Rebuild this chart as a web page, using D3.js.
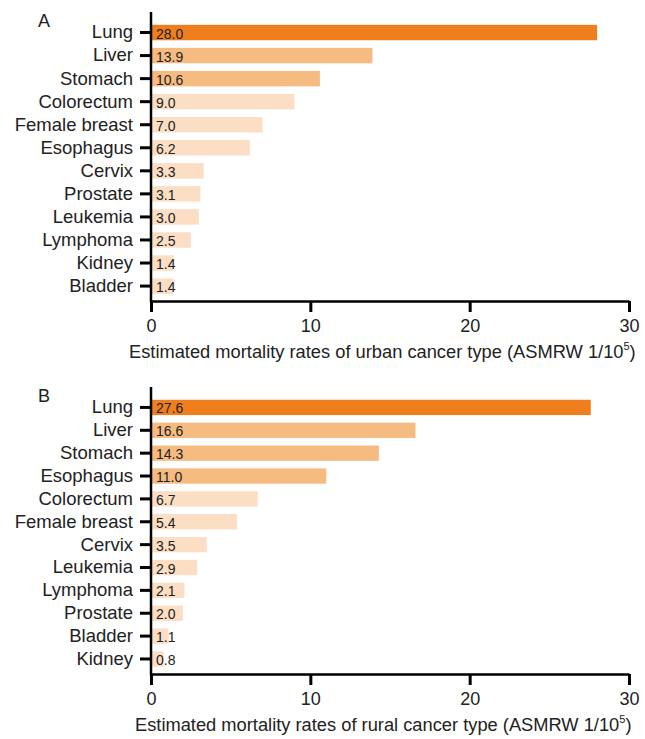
<!DOCTYPE html>
<html>
<head>
<meta charset="utf-8">
<script src="https://cdn.jsdelivr.net/npm/d3@7"></script>
<style>
  body { margin: 0; background: #fff; }
  svg { font-family: "Liberation Sans", Arial, sans-serif; display: block; }
</style>
</head>
<body>
<svg id="chart" width="645" height="739"></svg>
<script>
// urban cancer types (panel A)
const urbanCategories = ['Lung', 'Liver', 'Stomach', 'Colorectum', 'Female breast', 'Esophagus',
  'Cervix', 'Prostate', 'Leukemia', 'Lymphoma', 'Kidney', 'Bladder']
const urbanValues = [28.0, 13.9, 10.6, 9.0, 7.0, 6.2, 3.3, 3.1, 3.0, 2.5, 1.4, 1.4]

// rural cancer types (panel B)
const ruralCategories = ['Lung', 'Liver', 'Stomach', 'Esophagus', 'Colorectum', 'Female breast',
  'Cervix', 'Leukemia', 'Lymphoma', 'Prostate', 'Bladder', 'Kidney']
const ruralValues = [27.6, 16.6, 14.3, 11.0, 6.7, 5.4, 3.5, 2.9, 2.1, 2.0, 1.1, 0.8]

// x axis ticks
const xTicks = [0, 10, 20, 30]

const svg = d3.select('#chart')

// bar colour by value: light / medium / dark orange
const color = d3.scaleThreshold()
  .domain([10, 20])
  .range(['#fbdec3', '#f6bb80', '#ef7f1e'])

// shared x scale for both panels
const x = d3.scaleLinear().domain([0, 30]).range([151, 629])

function drawPanel(cats, vals, o) {
  const g = svg.append('g')

  const y = d3.scaleBand()
    .domain(cats)
    .range([o.bandTop, o.bandBottom])
    .paddingInner(0.33)
    .paddingOuter(0.165)

  // bars
  g.selectAll('rect.bar')
    .data(vals)
    .enter()
    .append('rect')
    .attr('class', 'bar')
    .attr('x', x(0))
    .attr('y', (d, i) => y(cats[i]))
    .attr('width', d => x(d) - x(0))
    .attr('height', y.bandwidth())
    .attr('fill', d => color(d))

  // value labels inside bars
  g.selectAll('text.val')
    .data(vals)
    .enter()
    .append('text')
    .attr('class', 'val')
    .attr('x', x(0) + 5)
    .attr('y', (d, i) => y(cats[i]) + y.bandwidth() / 2 + 6)
    .attr('font-size', 14)
    .attr('fill', '#222')
    .text(d => d.toFixed(1))

  // y axis
  const axisY = d3.axisLeft(y).tickSize(11).tickPadding(7).tickSizeOuter(0)
  const gy = g.append('g')
    .attr('transform', `translate(${x(0)},0)`)
    .call(axisY)
  gy.select('.domain').remove()
  gy.selectAll('.tick line').attr('stroke', '#000').attr('stroke-width', 3)
  gy.selectAll('.tick text').attr('font-size', 18.5).attr('fill', '#222')
    .attr('font-family', '"Liberation Sans", Arial, sans-serif')
  g.append('line')
    .attr('x1', x(0)).attr('x2', x(0))
    .attr('y1', o.axisTop).attr('y2', o.axisY + 1.25)
    .attr('stroke', '#000').attr('stroke-width', 2.5)

  // x axis
  const axisX = d3.axisBottom(x).tickValues(xTicks).tickSize(11).tickPadding(7).tickSizeOuter(0)
  const gx = g.append('g')
    .attr('transform', `translate(0,${o.axisY})`)
    .call(axisX)
  gx.select('.domain').attr('stroke', '#000').attr('stroke-width', 2.5)
  gx.selectAll('.tick line').attr('stroke', '#000').attr('stroke-width', 3)
  gx.selectAll('.tick text').attr('font-size', 18).attr('fill', '#222')
    .attr('font-family', '"Liberation Sans", Arial, sans-serif')

  // axis title
  const title = g.append('text')
    .attr('x', o.titleX)
    .attr('y', o.axisY + 57)
    .attr('font-size', 18.3)
    .attr('fill', '#222')
  title.append('tspan').text(o.title)
  title.append('tspan').attr('font-size', 11).attr('dy', -8).text('5')
  title.append('tspan').attr('dy', 8).text(')')

  // panel letter
  g.append('text')
    .attr('x', 38)
    .attr('y', o.axisTop + 15)
    .attr('font-size', 18)
    .attr('fill', '#222')
    .text(o.letter)
}

drawPanel(urbanCategories, urbanValues, {
  letter: 'A', axisTop: 12, axisY: 301, bandTop: 21, bandBottom: 297.6,
  titleX: 129, title: 'Estimated mortality rates of urban cancer type (ASMRW 1/10'
})
drawPanel(ruralCategories, ruralValues, {
  letter: 'B', axisTop: 387, axisY: 674, bandTop: 396, bandBottom: 670.4,
  titleX: 135, title: 'Estimated mortality rates of rural cancer type (ASMRW 1/10'
})
</script>
</body>
</html>
